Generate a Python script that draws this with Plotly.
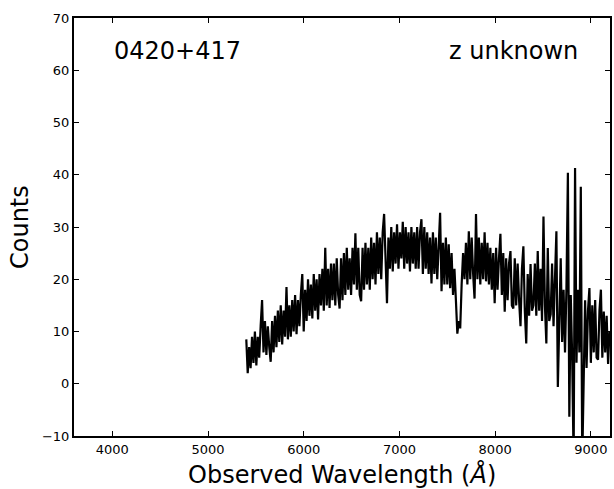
import plotly.graph_objects as go

wave_start = 5400
wave_step = 15
counts = [
    # 5400-5685
    8.5, 2, 7, 3, 9, 4, 10, 3.5, 9, 5, 11, 16, 6, 12, 5.5, 11, 7, 4.2, 12, 6,
    # 5700-5985
    13, 7, 14, 8, 15, 7.5, 14, 9, 18.5, 8.5, 15, 9, 16, 10, 17, 9.5, 16, 11, 17, 21,
    # 6000-6285
    10, 18, 12, 20, 13, 19, 12.5, 21, 14, 20, 12.3, 21, 15, 22, 14, 26, 15, 22, 14.5, 23,
    # 6300-6585
    16, 23, 15, 24, 17, 14.4, 24, 16, 25, 17, 26, 18, 24, 17, 26, 19, 28.8, 18, 26, 17,
    # 6600-6885
    15.8, 26, 18, 27, 19, 26, 18, 28, 20, 27, 19, 29, 21, 28, 20, 29, 32.5, 21, 15.4, 28,
    # 6900-7185
    22, 30, 21.5, 29, 23, 30.5, 22, 29, 24, 31, 22, 30, 23, 29, 21.5, 30, 23, 29, 22, 30,
    # 7200-7485
    22, 29, 31.5, 21, 30, 22, 29, 21, 28, 19.2, 29, 21, 28, 20, 27, 32.7, 17.7, 27, 19, 28,
    # 7500-7785
    19, 26.7, 18.3, 25, 17, 22, 16, 9.6, 12, 10.6, 19, 25, 20, 27, 19, 29.2, 20, 28, 21, 16.3,
    # 7800-8085
    32.5, 20, 28, 19, 27, 20, 29, 19.6, 27, 19, 26, 18, 25, 15.4, 26, 18, 24, 28.7, 17, 25,
    # 8100-8385
    13.8, 24, 16, 23, 25.4, 15, 14.4, 24, 15, 23, 16, 11, 22, 26.3, 14, 7.7, 21, 13, 22.9, 14,
    # 8400-8685
    15, 23, 13, 25.4, 14, 22, 12, 32, 15, 7.7, 26, 12, 13.3, 23, 11, 22, 29.2, -0.6, 12, 24,
    # 8700-8985
    8, 18, 6, 18.3, 40.4, -6.3, 17, 5, -15, 41.3, 4, 18, 6, 37.7, -15, 0.4, 16, 3, 14, 18.3,
    # 9000-9195
    4, 15, 6, 16, 5, 4.6, 14, 18, 5, 13.8, 6, 13, 3.8, 10,
]
wavelength = [wave_start + i * wave_step for i in range(len(counts))]

x_ticks = [4000, 5000, 6000, 7000, 8000, 9000]
y_ticks = [-10, 0, 10, 20, 30, 40, 50, 60, 70]
x_range = [3600, 9200]
y_range = [-10, 70]

object_name = "0420+417"
redshift_label = "z unknown"

FONT = "DejaVu Sans"

fig = go.Figure()
fig.add_trace(go.Scatter(
    x=wavelength, y=counts, mode="lines",
    line=dict(color="black", width=2.2),
    showlegend=False, hoverinfo="skip",
))

axis_common = dict(
    showline=True, linecolor="black", linewidth=2, mirror="ticks",
    ticks="inside", ticklen=5, tickwidth=1, tickcolor="black",
    showgrid=False, zeroline=False,
    tickfont=dict(family=FONT, size=13, color="black"),
)

fig.update_xaxes(range=x_range, tickvals=x_ticks, **axis_common)
fig.update_yaxes(range=y_range, tickvals=y_ticks, **axis_common)

fig.add_annotation(x=4000, y=63.7, xref="x", yref="y", text=object_name,
                   showarrow=False, xanchor="left", yanchor="middle",
                   font=dict(family=FONT, size=24, color="black"))
fig.add_annotation(x=8885, y=63.7, xref="x", yref="y", text=redshift_label,
                   showarrow=False, xanchor="right", yanchor="middle",
                   font=dict(family=FONT, size=24, color="black"))

# axis titles
fig.add_annotation(x=0.5, y=0, xref="paper", yref="paper", yshift=-38,
                   text="Observed Wavelength (<i>Å</i>)", showarrow=False,
                   xanchor="center", yanchor="middle",
                   font=dict(family=FONT, size=24, color="black"))
fig.add_annotation(x=0, y=0.5, xref="paper", yref="paper", xshift=-54,
                   text="Counts", textangle=-90, showarrow=False,
                   xanchor="center", yanchor="middle",
                   font=dict(family=FONT, size=24, color="black"))

fig.update_layout(
    width=614, height=489,
    margin=dict(l=74, r=2, t=18, b=53, pad=0),
    paper_bgcolor="white", plot_bgcolor="white",
    font=dict(family=FONT, color="black"),
)

fig.write_html(
    "out.html",
    config={"displayModeBar": False},
    post_script="document.body.style.margin='0';document.body.style.overflow='hidden';",
)
